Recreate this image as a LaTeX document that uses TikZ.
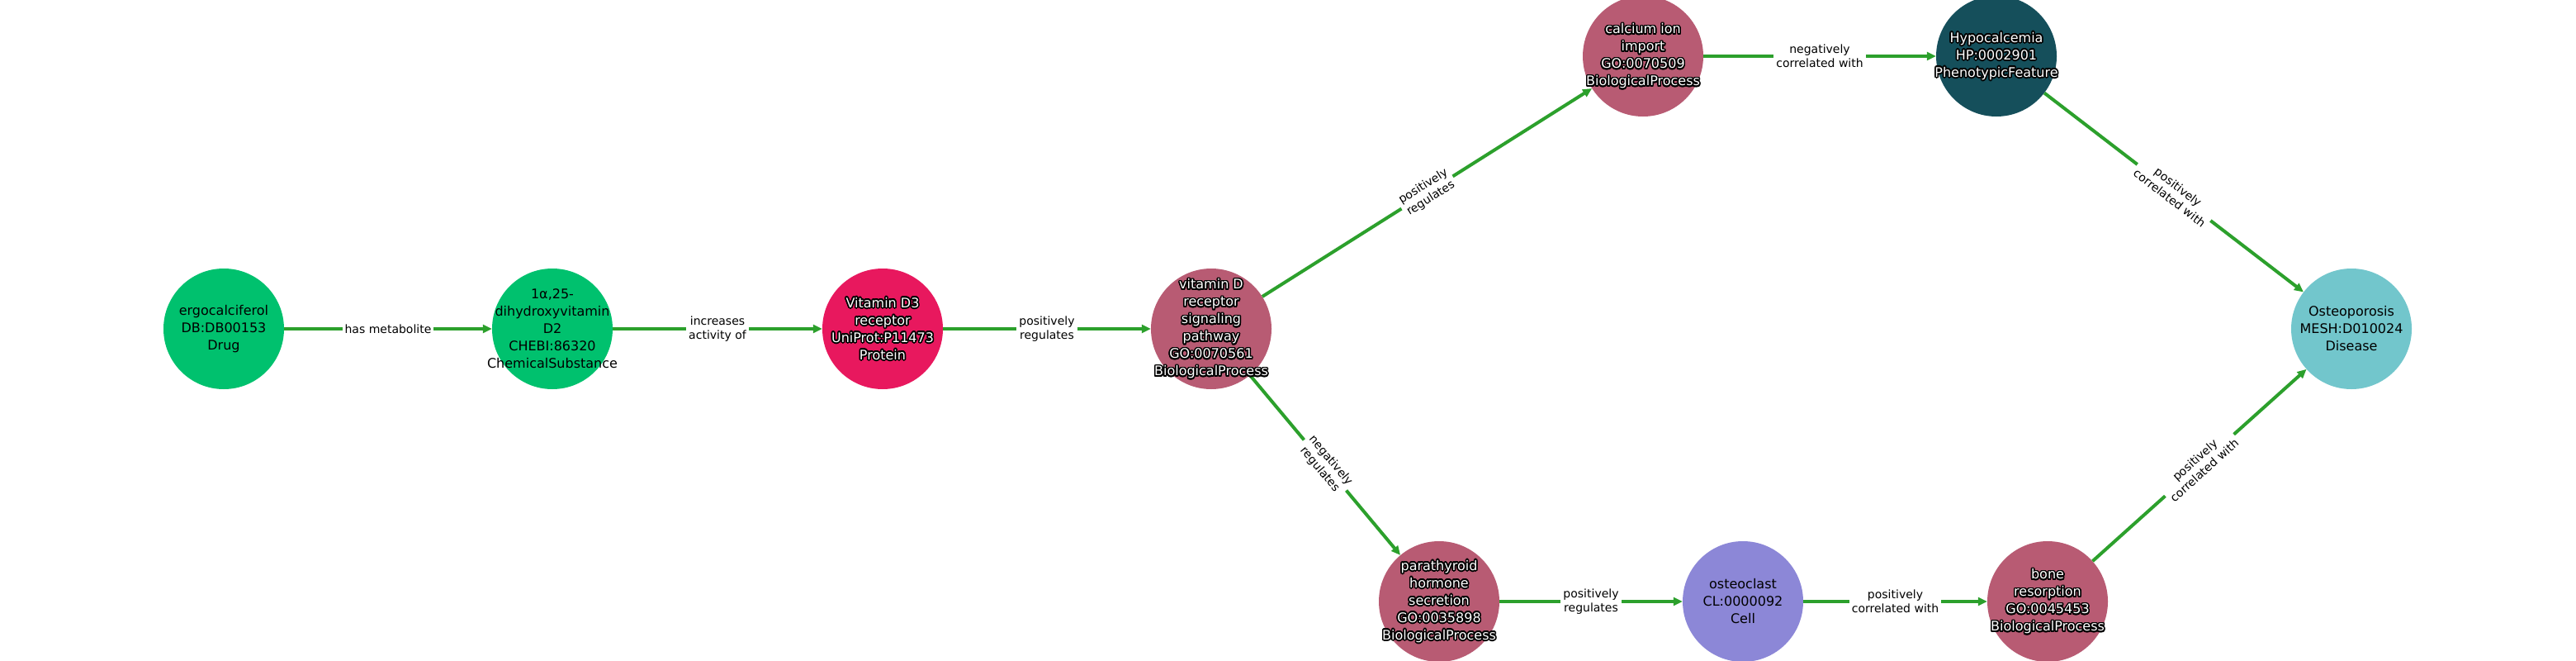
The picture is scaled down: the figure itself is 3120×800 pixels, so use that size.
\documentclass[tikz,border=0pt]{standalone}
\usepackage{fontspec}
\setmainfont{DejaVu Sans}
\usetikzlibrary{arrows.meta,calc}
\definecolor{edgegreen}{HTML}{2CA02C}
\definecolor{drugc}{HTML}{00C16E}
\definecolor{protc}{HTML}{E8185E}
\definecolor{bpc}{HTML}{B85B73}
\definecolor{phenc}{HTML}{154F5B}
\definecolor{disc}{HTML}{72C6CC}
\definecolor{cellc}{HTML}{8C87D7}
\tikzset{
  ent/.style={circle, minimum size=146pt, inner sep=0pt, draw=none},
  ntext/.style={align=center, font=\fontsize{16}{21}\selectfont, inner sep=0pt},
  rel/.style={draw=edgegreen, line width=4pt, -{Triangle[length=11pt,width=10pt]}},
  rlab/.style={fill=white, inner sep=3pt, align=center, font=\fontsize{14}{17}\selectfont, text=black, sloped, midway},
}
\newcommand{\outl}[3]{%
  \foreach \ang in {0,22.5,...,337.5}{\node[ntext,text=black] (#1-\ang) at ($(#2)+(\ang:1.6pt)$) {#3};}
  \node[ntext,text=white] (#1) at (#2) {#3};
}
\begin{document}
\begin{tikzpicture}[x=1pt,y=-1pt]
\useasboundingbox[fill=white] (0,0) rectangle (3120,800);
% entities
\node[ent, fill=drugc] (ergo) at (271,398) {};
\node[ent, fill=drugc] (chem) at (669,398) {};
\node[ent, fill=protc] (vdr) at (1069,398) {};
\node[ent, fill=bpc] (sig) at (1467,398) {};
\node[ent, fill=bpc] (cai) at (1990,68) {};
\node[ent, fill=phenc] (hypo) at (2418,68) {};
\node[ent, fill=disc] (osteo) at (2848,398) {};
\node[ent, fill=bpc] (pth) at (1743,728) {};
\node[ent, fill=cellc] (ocl) at (2111,728) {};
\node[ent, fill=bpc] (bone) at (2480,728) {};
% relations
\draw[rel] (ergo) -- node[rlab] (l1) {has metabolite} (chem);
\draw[rel] (chem) -- node[rlab] (l2) {increases\\activity of} (vdr);
\draw[rel] (vdr) -- node[rlab] (l3) {positively\\regulates} (sig);
\draw[rel] (sig) -- node[rlab] (l4) {positively\\regulates} (cai);
\draw[rel] (cai) -- node[rlab] (l5) {negatively\\correlated with} (hypo);
\draw[rel] (hypo) -- node[rlab] (l6) {positively\\correlated with} (osteo);
\draw[rel] (sig) -- node[rlab] (l7) {negatively\\regulates} (pth);
\draw[rel] (pth) -- node[rlab] (l8) {positively\\regulates} (ocl);
\draw[rel] (ocl) -- node[rlab] (l9) {positively\\correlated with} (bone);
\draw[rel] (bone) -- node[rlab] (l10) {positively\\correlated with} (osteo);
% texts
\node[ntext] (ergot) at (ergo.center) {ergocalciferol\\DB:DB00153\\Drug};
\node[ntext] (chemt) at (chem.center) {1α,25-\\dihydroxyvitamin\\D2\\CHEBI:86320\\ChemicalSubstance};
\outl{vdrt}{vdr.center}{Vitamin D3\\receptor\\UniProt:P11473\\Protein}
\outl{sigt}{sig.center}{vitamin D\\receptor\\signaling\\pathway\\GO:0070561\\BiologicalProcess}
\outl{cait}{cai.center}{calcium ion\\import\\GO:0070509\\BiologicalProcess}
\outl{hypot}{hypo.center}{Hypocalcemia\\HP:0002901\\PhenotypicFeature}
\node[ntext] (osteot) at (osteo.center) {Osteoporosis\\MESH:D010024\\Disease};
\outl{ptht}{pth.center}{parathyroid\\hormone\\secretion\\GO:0035898\\BiologicalProcess}
\node[ntext] (oclt) at (ocl.center) {osteoclast\\CL:0000092\\Cell};
\outl{bonet}{bone.center}{bone\\resorption\\GO:0045453\\BiologicalProcess}
\end{tikzpicture}
\end{document}
